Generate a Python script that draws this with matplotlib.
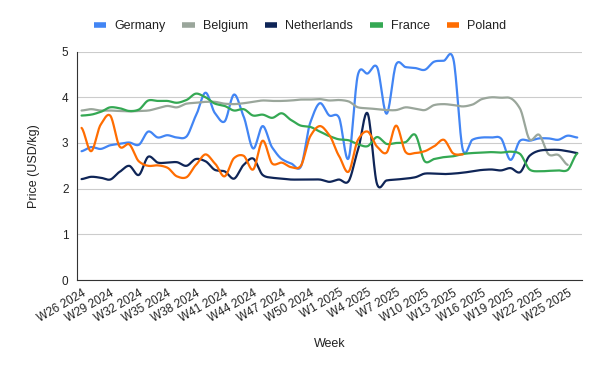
import matplotlib
matplotlib.use('Agg')
import matplotlib.pyplot as plt
import numpy as np

# weeks W26 2024 .. W26 2025
weeks = ['W%d 2024' % w for w in range(26, 53)] + ['W%d 2025' % w for w in range(1, 27)]

germany = [2.82, 2.91, 2.87, 2.95, 2.98, 3.01, 2.96, 3.25, 3.12, 3.17,
           3.12, 3.14, 3.60, 4.10, 3.65, 3.47, 4.06, 3.58, 2.88, 3.37,
           2.90, 2.65, 2.55, 2.48, 3.45, 3.87, 3.60, 3.56, 2.66, 4.50,
           4.52, 4.66, 3.64, 4.72, 4.66, 4.64, 4.60, 4.78, 4.80, 4.84,
           2.85, 3.07, 3.12, 3.12, 3.10, 2.63, 3.05, 3.05, 3.10, 3.10,
           3.07, 3.16, 3.12]
belgium = [3.71, 3.74, 3.71, 3.71, 3.70, 3.69, 3.70, 3.71, 3.76, 3.81,
           3.78, 3.86, 3.88, 3.90, 3.90, 3.86, 3.85, 3.87, 3.90, 3.93,
           3.92, 3.92, 3.93, 3.95, 3.95, 3.96, 3.93, 3.94, 3.91, 3.78,
           3.76, 3.74, 3.72, 3.72, 3.78, 3.75, 3.72, 3.83, 3.85, 3.83,
           3.80, 3.84, 3.96, 4.00, 3.99, 3.98, 3.75, 3.08, 3.18, 2.75,
           2.74, 2.52]
netherlands = [2.21, 2.26, 2.24, 2.20, 2.37, 2.50, 2.30, 2.70, 2.57, 2.57,
               2.58, 2.50, 2.65, 2.60, 2.41, 2.38, 2.22, 2.52, 2.66, 2.30,
               2.24, 2.22, 2.20, 2.20, 2.20, 2.20, 2.15, 2.20, 2.16, 2.85,
               3.65, 2.10, 2.18, 2.20, 2.22, 2.25, 2.33, 2.33, 2.32, 2.33,
               2.35, 2.38, 2.41, 2.42, 2.40, 2.45, 2.36, 2.72, 2.83, 2.85,
               2.85, 2.82, 2.78]
france = [3.60, 3.62, 3.68, 3.78, 3.76, 3.70, 3.73, 3.93, 3.92, 3.92,
          3.88, 3.94, 4.08, 4.00, 3.86, 3.81, 3.71, 3.74, 3.60, 3.62,
          3.55, 3.65, 3.50, 3.38, 3.35, 3.25, 3.15, 3.08, 3.06, 2.97,
          2.93, 3.13, 2.98, 3.00, 3.02, 3.18, 2.60, 2.65, 2.69, 2.71,
          2.76, 2.78, 2.79, 2.80, 2.79, 2.81, 2.76, 2.42, 2.38, 2.39,
          2.40, 2.41, 2.77]
poland = [3.33, 2.82, 3.40, 3.60, 2.92, 2.97, 2.60, 2.50, 2.51, 2.46,
          2.27, 2.25, 2.52, 2.75, 2.55, 2.27, 2.67, 2.72, 2.42, 3.05,
          2.55, 2.57, 2.47, 2.50, 3.15, 3.37, 3.17, 2.72, 2.37, 3.07,
          3.25, 2.92, 2.79, 3.38, 2.80, 2.78, 2.82, 2.93, 3.07, 2.77,
          2.75]

series = [('Germany', germany, '#4285f4'),
          ('Belgium', belgium, '#9aa69b'),
          ('Netherlands', netherlands, '#0f2557'),
          ('France', france, '#34a853'),
          ('Poland', poland, '#ff6d01')]


def smooth(y, n=16, k=0.4):
    # hermite curve through the weekly points (a bit less tension than catmull-rom)
    y = np.asarray(y, float)
    p = np.r_[y[0], y, y[-1]]
    t = np.linspace(0, 1, n, endpoint=False)
    h00 = 2*t**3 - 3*t**2 + 1
    h10 = t**3 - 2*t**2 + t
    h01 = -2*t**3 + 3*t**2
    h11 = t**3 - t**2
    xs, ys = [], []
    for i in range(len(y) - 1):
        m1 = (p[i+2] - p[i]) * k
        m2 = (p[i+3] - p[i+1]) * k
        xs.append(i + t)
        ys.append(h00*p[i+1] + h10*m1 + h01*p[i+2] + h11*m2)
    xs.append([len(y) - 1])
    ys.append([y[-1]])
    return np.concatenate(xs), np.concatenate(ys)


def main():
    plt.rcParams['font.family'] = ['Liberation Sans', 'DejaVu Sans']

    fig = plt.figure(figsize=(6, 3.71), dpi=100)
    ax = fig.add_axes([0.128, 0.245, 0.842, 0.616])

    for i, (name, vals, col) in enumerate(series):
        xs, ys = smooth(vals)
        ax.plot(xs, ys, color=col, lw=1.6, label=name, zorder=3 + i,
                solid_capstyle='round', clip_on=False)

    ax.set_xlim(-0.5, len(weeks) - 0.5)
    ax.set_ylim(0, 5)
    ax.set_yticks([0, 1, 2, 3, 4, 5])
    ax.grid(axis='y', color='#cccccc', lw=0.8)
    ax.set_axisbelow(True)

    pos = np.arange(0, len(weeks), 3)
    ax.set_xticks(pos)
    ax.set_xticklabels([weeks[k] for k in pos], rotation=30, ha='right',
                       rotation_mode='anchor', fontsize=8.5, color='#222222')
    ax.tick_params(axis='x', length=0, pad=5)
    ax.tick_params(axis='y', length=0, pad=6, labelsize=8.5, labelcolor='#222222')

    for s in ['top', 'right']:
        ax.spines[s].set_visible(False)
    ax.spines['left'].set_color('#333333')
    ax.spines['bottom'].set_color('#333333')

    ax.set_xlabel('Week', fontsize=9, color='#222222', labelpad=10)
    ax.set_ylabel('Price (USD/kg)', fontsize=9, color='#222222', labelpad=16)

    leg = fig.legend(loc='center', bbox_to_anchor=(0.5, 0.93), ncol=5,
                     frameon=False, fontsize=9, handlelength=1.0,
                     columnspacing=1.35, handletextpad=0.65)
    for h in leg.get_lines():
        h.set_linewidth(4)
        h.set_solid_capstyle('butt')
    for txt in leg.get_texts():
        txt.set_color('#222222')

    fig.savefig('out.png', dpi=100)


if __name__ == '__main__':
    main()
